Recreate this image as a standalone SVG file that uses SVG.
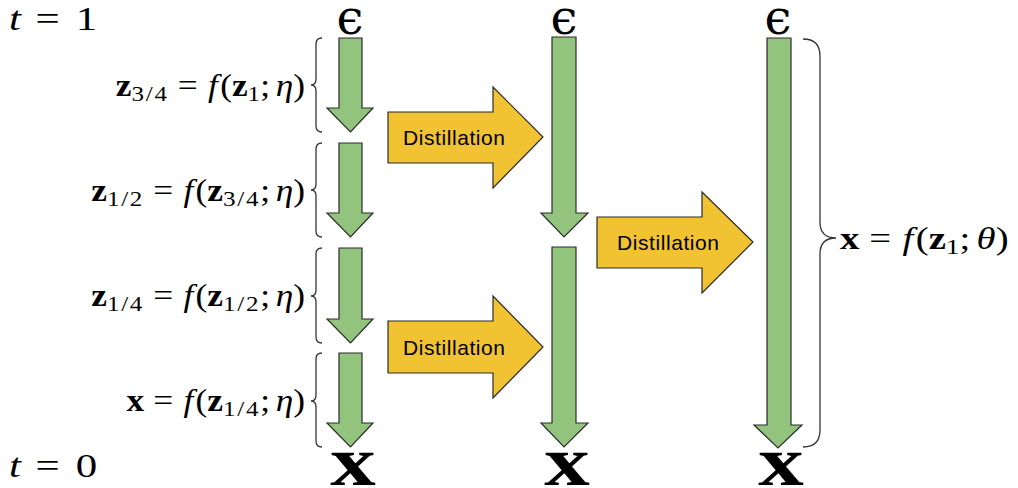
<svg xmlns="http://www.w3.org/2000/svg" width="1018" height="488" viewBox="0 0 1018 488">
<style>
.g{fill:#93c47d;stroke:#2b2b2b;stroke-width:1.2;stroke-linejoin:miter}
.y{fill:#f1c232;stroke:#2b2b2b;stroke-width:1.2}
.br{fill:none;stroke:#333;stroke-width:1.3}
.m{font-family:"Liberation Serif","Times New Roman",serif;font-size:31px;fill:#000}
.b{font-weight:bold}
.i{font-style:italic}
.s{font-size:22px}
.fr{font-size:22px;letter-spacing:1.5px}
.lbl{font-family:"Liberation Sans",Arial,sans-serif;font-size:21px;fill:#000}
.big{font-family:"Liberation Serif","Times New Roman",serif;font-size:33px;fill:#000}
.eps{font-family:"DejaVu Serif","Liberation Serif",serif;font-size:48px;fill:#000}
.xo{font-family:"Liberation Serif","DejaVu Serif",serif;font-size:70px;font-weight:bold;fill:#000}
</style>
<rect width="1018" height="488" fill="#fff"/>
<g id="time-labels">
<text class="big" transform="translate(9,30) scale(1.3,1)"><tspan class="i">t</tspan><tspan dx="3"> = </tspan><tspan dx="4">1</tspan></text>
<text class="big" transform="translate(9,477) scale(1.3,1)"><tspan class="i">t</tspan><tspan dx="3"> = </tspan><tspan dx="4">0</tspan></text>
</g>
<g id="epsilons">
<text class="eps" x="350" y="34" text-anchor="middle">ϵ</text>
<text class="eps" x="564" y="34" text-anchor="middle">ϵ</text>
<text class="eps" x="778" y="34" text-anchor="middle">ϵ</text>
</g>
<g id="outputs">
<text class="xo" transform="translate(353,485) scale(1.3,1)" text-anchor="middle">x</text>
<text class="xo" transform="translate(567,485) scale(1.3,1)" text-anchor="middle">x</text>
<text class="xo" transform="translate(781,485) scale(1.3,1)" text-anchor="middle">x</text>
</g>
<g id="connectors">
<path class="g" d="M339 38 H362 V108 H373 L350.5 132 L327 108 H339 Z"/>
<path class="g" d="M339 143 H362 V213 H373 L350.5 237 L327 213 H339 Z"/>
<path class="g" d="M339 248 H362 V319 H373 L350.5 343 L327 319 H339 Z"/>
<path class="g" d="M339 353 H362 V423 H373 L350.5 447 L327 423 H339 Z"/>
<path class="g" d="M552 37 H576 V213 H588 L564 237 L541 213 H552 Z"/>
<path class="g" d="M552 247 H576 V423 H588 L564 447 L541 423 H552 Z"/>
<path class="g" d="M767 38 H791 V425 H802 L778 448 L754 425 H767 Z"/>
</g>
<g id="distill-1">
<path class="y" d="M388 112 H493 V87 L543 137 L493 188 V163 H388 Z"/>
<text class="lbl" x="403" y="145" textLength="102">Distillation</text>
</g>
<g id="distill-2">
<path class="y" d="M597 217 H702 V192 L753 242 L702 293 V268 H597 Z"/>
<text class="lbl" x="617" y="250" textLength="102">Distillation</text>
</g>
<g id="distill-3">
<path class="y" d="M388 321 H493 V296 L543 347 L493 398 V373 H388 Z"/>
<text class="lbl" x="403" y="355" textLength="102">Distillation</text>
</g>
<g id="braces">
<path class="br" d="M322 38 Q316 38 316 44 L316 79 Q316 85 311 85 Q316 85 316 91 L316 126 Q316 132 322 132"/>
<path class="br" d="M322 143 Q316 143 316 149 L316 184 Q316 190 311 190 Q316 190 316 196 L316 231 Q316 237 322 237"/>
<path class="br" d="M322 248 Q316 248 316 254 L316 290 Q316 296 311 296 Q316 296 316 302 L316 337 Q316 343 322 343"/>
<path class="br" d="M322 353 Q316 353 316 359 L316 395 Q316 401 311 401 Q316 401 316 407 L316 441 Q316 447 322 447"/>
<path class="br" d="M803 39 Q820 39 820 56 L820 222 Q820 238 836 238 Q820 238 820 254 L820 430 Q820 447 803 447"/>
</g>
<g id="formulas">
<text class="m" transform="translate(305,96) scale(1.14,1)" text-anchor="end"><tspan class="b">z</tspan><tspan class="fr" dy="5">3/4</tspan><tspan dx="8" dy="-5">=</tspan><tspan class="i" dx="9">f</tspan><tspan dx="2">(</tspan><tspan class="b">z</tspan><tspan class="s" dy="5">1</tspan><tspan dy="-5">;</tspan><tspan class="i" dx="5">η</tspan><tspan>)</tspan></text>
<text class="m" transform="translate(305,201) scale(1.14,1)" text-anchor="end"><tspan class="b">z</tspan><tspan class="fr" dy="5">1/2</tspan><tspan dx="8" dy="-5">=</tspan><tspan class="i" dx="9">f</tspan><tspan dx="2">(</tspan><tspan class="b">z</tspan><tspan class="fr" dy="5">3/4</tspan><tspan dy="-5">;</tspan><tspan class="i" dx="5">η</tspan><tspan>)</tspan></text>
<text class="m" transform="translate(305,306) scale(1.14,1)" text-anchor="end"><tspan class="b">z</tspan><tspan class="fr" dy="5">1/4</tspan><tspan dx="8" dy="-5">=</tspan><tspan class="i" dx="9">f</tspan><tspan dx="2">(</tspan><tspan class="b">z</tspan><tspan class="fr" dy="5">1/2</tspan><tspan dy="-5">;</tspan><tspan class="i" dx="5">η</tspan><tspan>)</tspan></text>
<text class="m" transform="translate(305,411) scale(1.14,1)" text-anchor="end"><tspan class="b">x</tspan><tspan dx="8">=</tspan><tspan class="i" dx="9">f</tspan><tspan dx="2">(</tspan><tspan class="b">z</tspan><tspan class="fr" dy="5">1/4</tspan><tspan dy="-5">;</tspan><tspan class="i" dx="5">η</tspan><tspan>)</tspan></text>
<text class="m" transform="translate(840,249) scale(1.25,1)" font-size="32"><tspan class="b">x</tspan><tspan dx="8">=</tspan><tspan class="i" dx="9">f</tspan><tspan dx="2">(</tspan><tspan class="b">z</tspan><tspan class="s" dy="5">1</tspan><tspan dy="-5">;</tspan><tspan class="i" dx="5">θ</tspan><tspan>)</tspan></text>
</g>
</svg>
